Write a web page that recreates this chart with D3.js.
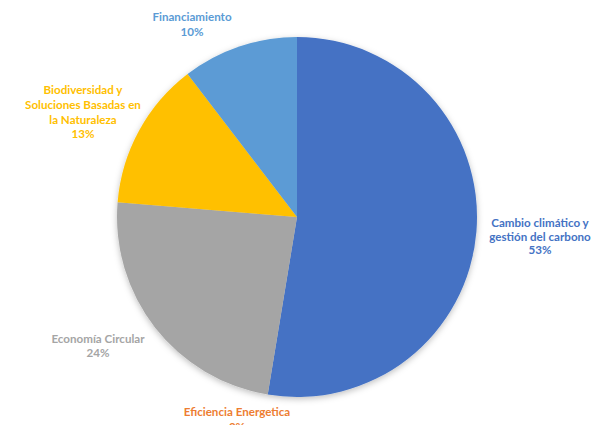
<!DOCTYPE html>
<html><head><meta charset="utf-8">
<script src="https://cdn.jsdelivr.net/npm/d3@7"></script>
<style>body{margin:0;background:#fff}svg{display:block}</style>
</head><body>
<script>
const categories = ["Cambio climático y gestión del carbono","Eficiencia Energetica","Economía Circular","Biodiversidad y Soluciones Basadas en la Naturaleza","Financiamiento"];
const values = [52.6, 0, 23.7, 13.3, 10.4];
const pctLabels = ["53%","0%","24%","13%","10%"];
const labelLines = [["Cambio climático y","gestión del carbono"],["Eficiencia Energetica"],["Economía Circular"],["Biodiversidad y","Soluciones Basadas en","la Naturaleza"],["Financiamiento"]];
const colors = ["#4472C4","#ED7D31","#A5A5A5","#FFC000","#5B9BD5"];

const W=606,H=425, cx=297, cy=217, R=180;
const svg=d3.select("body").append("svg").attr("width",W).attr("height",H);
const defs=svg.append("defs");
const f=defs.append("filter").attr("id","sh").attr("x","-10%").attr("y","-10%").attr("width","120%").attr("height","120%");
f.append("feDropShadow").attr("dx",0).attr("dy",2).attr("stdDeviation",3).attr("flood-color","#000").attr("flood-opacity",0.25);

const pie=d3.pie().sort(null).value(d=>d);
const arc=d3.arc().innerRadius(0).outerRadius(R);
const g=svg.append("g").attr("transform",`translate(${cx},${cy})`).attr("filter","url(#sh)");
g.selectAll("path").data(pie(values)).join("path").attr("d",arc).attr("fill",(d,i)=>colors[i]);

// label positions (center x, first line center y, line spacing)
const labelPos=[[540,223,13.5],[237,412,15],[98,339,14],[83,90,14.8],[192,17,15]];
const lg=svg.append("g").attr("font-family","Lato, 'Open Sans', sans-serif").attr("font-weight","bold").attr("font-size","11.6px").attr("text-anchor","middle");
labelLines.forEach((lines,i)=>{
  const [x,y,sp]=labelPos[i];
  const all=lines.concat([pctLabels[i]]);
  const t=lg.append("text").attr("fill",colors[i]);
  all.forEach((s,k)=>t.append("tspan").attr("x",x).attr("y",y+k*sp).attr("dy","0.35em").text(s));
});
</script>
</body></html>
